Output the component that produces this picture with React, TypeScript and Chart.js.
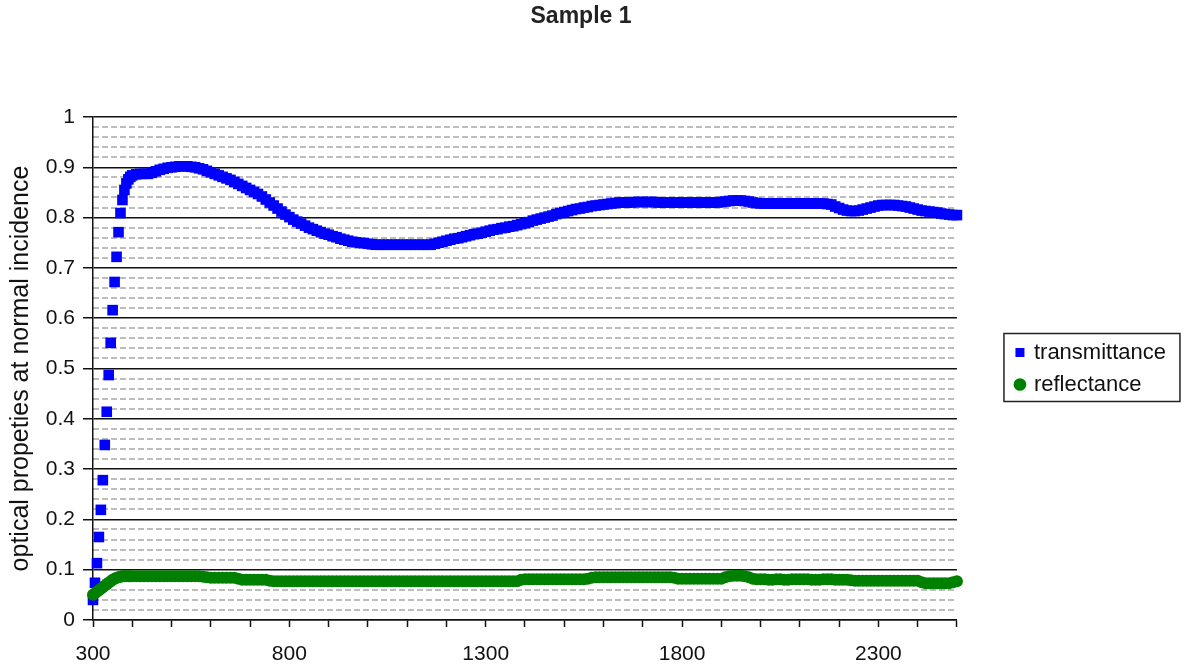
import { useEffect, useRef } from 'react';
import { Chart, registerables } from 'chart.js';

Chart.register(...registerables);

const FONT = "'Liberation Sans', Arial, sans-serif";

const wavelengths = [
  300, 305, 310, 315, 320, 325, 330, 335, 340, 345, 350, 355, 360, 365, 370, 375, 380, 385, 390, 395, 400,
  410, 420, 430, 440, 450, 460, 470, 480, 490, 500,
  510, 520, 530, 540, 550, 560, 570, 580, 590, 600,
  610, 620, 630, 640, 650, 660, 670, 680, 690, 700,
  710, 720, 730, 740, 750, 760, 770, 780, 790, 800,
  810, 820, 830, 840, 850, 860, 870, 880, 890, 900,
  910, 920, 930, 940, 950, 960, 970, 980, 990, 1000,
  1010, 1020, 1030, 1040, 1050, 1060, 1070, 1080, 1090, 1100,
  1110, 1120, 1130, 1140, 1150, 1160, 1170, 1180, 1190, 1200,
  1210, 1220, 1230, 1240, 1250, 1260, 1270, 1280, 1290, 1300,
  1310, 1320, 1330, 1340, 1350, 1360, 1370, 1380, 1390, 1400,
  1410, 1420, 1430, 1440, 1450, 1460, 1470, 1480, 1490, 1500,
  1510, 1520, 1530, 1540, 1550, 1560, 1570, 1580, 1590, 1600,
  1610, 1620, 1630, 1640, 1650, 1660, 1670, 1680, 1690, 1700,
  1710, 1720, 1730, 1740, 1750, 1760, 1770, 1780, 1790, 1800,
  1810, 1820, 1830, 1840, 1850, 1860, 1870, 1880, 1890, 1900,
  1910, 1920, 1930, 1940, 1950, 1960, 1970, 1980, 1990, 2000,
  2010, 2020, 2030, 2040, 2050, 2060, 2070, 2080, 2090, 2100,
  2110, 2120, 2130, 2140, 2150, 2160, 2170, 2180, 2190, 2200,
  2210, 2220, 2230, 2240, 2250, 2260, 2270, 2280, 2290, 2300,
  2310, 2320, 2330, 2340, 2350, 2360, 2370, 2380, 2390, 2400,
  2410, 2420, 2430, 2440, 2450, 2460, 2470, 2480, 2490, 2500,
];

const transmittance = [
  0.040, 0.074, 0.113, 0.165, 0.219, 0.278, 0.348, 0.414, 0.487, 0.551, 0.616, 0.672, 0.722, 0.771, 0.809, 0.835, 0.855, 0.868, 0.876, 0.881, 0.884,
  0.886, 0.887, 0.887, 0.887, 0.889, 0.892, 0.895, 0.897, 0.899, 0.900,
  0.901, 0.902, 0.902, 0.902, 0.901, 0.900, 0.898, 0.896, 0.893, 0.890,
  0.887, 0.884, 0.881, 0.878, 0.875, 0.871, 0.867, 0.863, 0.859, 0.855,
  0.851, 0.847, 0.842, 0.836, 0.830, 0.824, 0.818, 0.812, 0.806, 0.801,
  0.796, 0.792, 0.788, 0.784, 0.780, 0.777, 0.774, 0.771, 0.768, 0.766,
  0.763, 0.761, 0.758, 0.756, 0.754, 0.752, 0.751, 0.750, 0.749, 0.748,
  0.747, 0.746, 0.746, 0.746, 0.746, 0.746, 0.746, 0.746, 0.746, 0.746,
  0.746, 0.746, 0.746, 0.746, 0.746, 0.746, 0.748, 0.750, 0.752, 0.754,
  0.756, 0.758, 0.759, 0.761, 0.763, 0.765, 0.767, 0.768, 0.770, 0.772,
  0.774, 0.776, 0.777, 0.779, 0.780, 0.782, 0.783, 0.785, 0.787, 0.789,
  0.791, 0.794, 0.796, 0.798, 0.800, 0.802, 0.804, 0.807, 0.809, 0.811,
  0.813, 0.815, 0.817, 0.818, 0.820, 0.821, 0.823, 0.824, 0.825, 0.826,
  0.827, 0.828, 0.829, 0.830, 0.830, 0.830, 0.830, 0.831, 0.831, 0.831,
  0.831, 0.831, 0.831, 0.830, 0.830, 0.830, 0.830, 0.830, 0.830, 0.830,
  0.830, 0.830, 0.830, 0.830, 0.830, 0.830, 0.830, 0.830, 0.830, 0.831,
  0.832, 0.833, 0.834, 0.834, 0.834, 0.833, 0.832, 0.830, 0.829, 0.828,
  0.828, 0.828, 0.828, 0.828, 0.828, 0.828, 0.828, 0.828, 0.828, 0.828,
  0.828, 0.828, 0.828, 0.828, 0.828, 0.828, 0.827, 0.826, 0.822, 0.819,
  0.816, 0.814, 0.813, 0.813, 0.814, 0.816, 0.818, 0.820, 0.822, 0.824,
  0.825, 0.825, 0.825, 0.825, 0.824, 0.823, 0.822, 0.820, 0.818, 0.816,
  0.814, 0.813, 0.812, 0.811, 0.810, 0.808, 0.807, 0.806, 0.805, 0.805,
];

const reflectance = [
  0.050, 0.053, 0.056, 0.059, 0.062, 0.065, 0.068, 0.071, 0.074, 0.077, 0.080, 0.082, 0.084, 0.085, 0.086, 0.087, 0.087, 0.087, 0.087, 0.087, 0.087,
  0.087, 0.087, 0.087, 0.087, 0.087, 0.087, 0.087, 0.087, 0.087, 0.087,
  0.087, 0.087, 0.087, 0.087, 0.087, 0.087, 0.087, 0.086, 0.085, 0.084,
  0.084, 0.084, 0.084, 0.084, 0.084, 0.084, 0.082, 0.080, 0.080, 0.080,
  0.080, 0.080, 0.080, 0.080, 0.078, 0.077, 0.077, 0.077, 0.077, 0.077,
  0.077, 0.077, 0.077, 0.077, 0.077, 0.077, 0.077, 0.077, 0.077, 0.077,
  0.077, 0.077, 0.077, 0.077, 0.077, 0.077, 0.077, 0.077, 0.077, 0.077,
  0.077, 0.077, 0.077, 0.077, 0.077, 0.077, 0.077, 0.077, 0.077, 0.077,
  0.077, 0.077, 0.077, 0.077, 0.077, 0.077, 0.077, 0.077, 0.077, 0.077,
  0.077, 0.077, 0.077, 0.077, 0.077, 0.077, 0.077, 0.077, 0.077, 0.077,
  0.077, 0.077, 0.077, 0.077, 0.077, 0.077, 0.077, 0.077, 0.080, 0.081,
  0.081, 0.081, 0.081, 0.081, 0.081, 0.081, 0.081, 0.081, 0.081, 0.081,
  0.081, 0.081, 0.081, 0.081, 0.081, 0.082, 0.084, 0.085, 0.085, 0.085,
  0.085, 0.085, 0.085, 0.085, 0.085, 0.085, 0.085, 0.085, 0.085, 0.085,
  0.085, 0.085, 0.085, 0.085, 0.085, 0.085, 0.085, 0.084, 0.082, 0.082,
  0.082, 0.082, 0.082, 0.082, 0.082, 0.082, 0.082, 0.082, 0.082, 0.082,
  0.085, 0.087, 0.088, 0.088, 0.088, 0.087, 0.085, 0.082, 0.081, 0.081,
  0.081, 0.080, 0.080, 0.081, 0.081, 0.080, 0.080, 0.081, 0.081, 0.081,
  0.081, 0.081, 0.080, 0.080, 0.080, 0.081, 0.081, 0.081, 0.080, 0.080,
  0.080, 0.080, 0.079, 0.078, 0.078, 0.078, 0.078, 0.078, 0.078, 0.078,
  0.078, 0.078, 0.078, 0.078, 0.078, 0.078, 0.078, 0.078, 0.078, 0.078,
  0.075, 0.073, 0.073, 0.073, 0.073, 0.073, 0.073, 0.073, 0.075, 0.077,
];

const xLabelValues = [300, 800, 1300, 1800, 2300];

const legendBorder = {
  id: 'legendBorder',
  afterDraw(chart: any) {
    const lg = chart.legend;
    if (!lg || !lg.legendHitBoxes || !lg.legendHitBoxes.length) return;
    const hb = lg.legendHitBoxes;
    const last = hb[hb.length - 1];
    const ctx = chart.ctx;
    const x = lg.left - 3;
    const top = hb[0].top - 8;
    const bottom = last.top + last.height + 6;
    ctx.save();
    ctx.strokeStyle = '#222';
    ctx.lineWidth = 1.5;
    ctx.strokeRect(x, top, 176, bottom - top);
    ctx.restore();
  },
};

export default function App() {
  const ref = useRef<HTMLCanvasElement>(null);

  useEffect(() => {
    if (!ref.current) return;
    const tPoints = wavelengths.map((x, i) => ({ x, y: transmittance[i] }));
    const rPoints = wavelengths.map((x, i) => ({ x, y: reflectance[i] }));
    const chart = new Chart(ref.current, {
      type: 'scatter',
      data: {
        datasets: [
          {
            label: 'transmittance',
            data: tPoints,
            yAxisID: 'y',
            xAxisID: 'x',
            pointStyle: 'rect',
            pointRadius: 7.5,
            pointBorderWidth: 0,
            borderWidth: 0,
            backgroundColor: '#0000ff',
            pointBackgroundColor: '#0000ff',
            borderColor: '#0000ff',
            clip: false as any,
            order: 1,
          },
          {
            label: 'reflectance',
            data: rPoints,
            yAxisID: 'y',
            xAxisID: 'x',
            pointStyle: 'circle',
            pointRadius: 6,
            pointBorderWidth: 0,
            borderWidth: 0,
            backgroundColor: '#008000',
            pointBackgroundColor: '#008000',
            borderColor: '#008000',
            clip: false as any,
            order: 0,
          },
        ],
      },
      options: {
        animation: false,
        responsive: false,
        events: [],
        layout: { padding: { left: -14, right: 11, top: 0, bottom: 0 } },
        plugins: {
          title: {
            display: true,
            text: 'Sample 1',
            color: '#222',
            font: { family: FONT, size: 23, weight: 'bold' },
            padding: { top: 3, bottom: 86.4 },
          },
          legend: {
            display: true,
            position: 'right',
            fullSize: false,
            align: 'center',
            labels: {
              usePointStyle: true,
              boxWidth: 6,
              boxHeight: 9,
              padding: 10,
              color: '#111',
              font: { family: FONT, size: 22 },
              sort: (a: any, b: any) => a.datasetIndex - b.datasetIndex,
            },
          },
          tooltip: { enabled: false },
        },
        scales: {
          x: {
            type: 'linear',
            min: 300,
            max: 2500,
            afterFit: (s: any) => {
              s.height = 49;
            },
            ticks: {
              stepSize: 100,
              autoSkip: false,
              maxRotation: 0,
              padding: 15,
              color: '#111',
              font: { family: FONT, size: 21 },
              callback: (v: any) => (xLabelValues.includes(Number(v)) ? String(v) : ''),
            },
            grid: {
              drawOnChartArea: false,
              drawTicks: true,
              tickLength: 7,
              tickColor: '#111',
              tickWidth: 1.5,
            },
            border: { display: true, color: '#111', width: 1.5 },
          },
          y: {
            type: 'linear',
            position: 'left',
            min: 0,
            max: 1,
            afterFit: (s: any) => {
              s.width = 107;
            },
            ticks: {
              stepSize: 0.1,
              padding: 8,
              color: '#111',
              font: { family: FONT, size: 21 },
              callback: (v: any) => String(Math.round(Number(v) * 10) / 10),
            },
            grid: {
              color: '#111',
              lineWidth: 1.5,
              drawTicks: true,
              tickLength: 10,
              tickColor: '#111',
              tickWidth: 1.5,
            },
            border: { display: true, color: '#111', width: 1.5 },
            title: {
              display: true,
              text: 'optical propeties at normal incidence',
              color: '#111',
              font: { family: FONT, size: 25 },
              padding: { top: 20, bottom: 0 },
            },
          },
          y2: {
            type: 'linear',
            position: 'right',
            min: 0,
            max: 1,
            afterFit: (s: any) => {
              s.width = 50;
            },
            ticks: { stepSize: 0.02, display: false },
            grid: {
              drawTicks: false,
              lineWidth: 2,
              color: (c: any) =>
                !c.tick || Math.round(c.tick.value * 100) % 10 === 0 ? 'rgba(0,0,0,0)' : '#bdbdbd',
            },
            border: { display: false, dash: [6, 3] },
          },
        },
      } as any,
      plugins: [legendBorder],
    });
    return () => chart.destroy();
  }, []);

  return (
    <div style={{ position: 'fixed', left: 0, top: 0, width: 1187, height: 669, background: '#fff' }}>
      <canvas ref={ref} width={1187} height={669} style={{ display: 'block', width: 1187, height: 669 }} />
    </div>
  );
}
